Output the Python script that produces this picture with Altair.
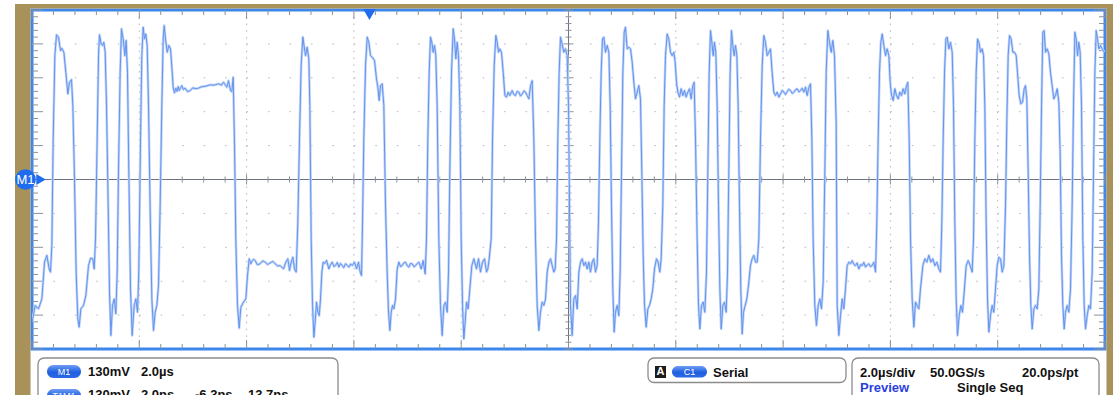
import altair as alt
import numpy as np
import pandas as pd

# Channel M1 acquisition, 2.0 µs/div horizontal, 130 mV/div vertical.
# Each pair is (time in µs from screen centre, level in mV).
trace_a = [
    (-9.997, -547), (-9.941, -483), (-9.879, -496), (-9.816, -458), (-9.767, -317),
    (-9.723, -291), (-9.680, -343), (-9.655, -355), (-9.630, -253), (-9.605, 156),
    (-9.574, 475), (-9.543, 555), (-9.506, 546), (-9.469, 494), (-9.444, 503),
    (-9.406, 488), (-9.369, 411), (-9.332, 328), (-9.301, 373), (-9.264, 383),
    (-9.239, 284), (-9.208, 2), (-9.177, -355), (-9.146, -534), (-9.121, -566),
    (-9.090, -496), (-9.040, -483), (-8.996, -445), (-8.947, -330), (-8.909, -302),
    (-8.866, -304), (-8.841, -343), (-8.816, -228), (-8.785, 156), (-8.760, 475),
    (-8.742, 555), (-8.711, 520), (-8.686, 514), (-8.661, 526), (-8.636, 488),
    (-8.611, 284), (-8.580, -100), (-8.555, -432), (-8.530, -598), (-8.499, -483),
    (-8.468, -458), (-8.437, -515), (-8.412, -355), (-8.388, 28), (-8.357, 411),
    (-8.332, 578), (-8.301, 539), (-8.269, 475), (-8.245, 533), (-8.220, 411),
    (-8.195, 28), (-8.164, -419), (-8.133, -598), (-8.095, -483), (-8.064, -458),
    (-8.033, -509), (-8.009, -355), (-7.977, 156), (-7.953, 475), (-7.928, 584),
    (-7.903, 539), (-7.878, 558), (-7.853, 514), (-7.828, 284), (-7.797, -125),
    (-7.766, -458), (-7.735, -579), (-7.704, -509), (-7.673, -483), (-7.642, -406),
    (-7.611, -100), (-7.580, 284), (-7.555, 539), (-7.536, 590), (-7.511, 539),
    (-7.480, 488), (-7.449, 514), (-7.418, 501), (-7.393, 431), (-7.369, 354),
    (-7.344, 332), (-7.320, 350), (-7.300, 338), (-7.275, 356), (-7.257, 341),
    (-7.230, 352), (-7.207, 360), (-7.180, 345), (-7.145, 350), (-7.100, 337),
    (-7.052, 341), (-7.000, 352), (-6.958, 348), (-6.900, 350), (-6.834, 356),
    (-6.760, 358), (-6.679, 363), (-6.600, 362), (-6.524, 367), (-6.470, 362),
    (-6.430, 373), (-6.368, 354), (-6.337, 379), (-6.300, 341), (-6.275, 337),
    (-6.250, 392), (-6.225, 130), (-6.201, -228), (-6.170, -483), (-6.138, -570),
    (-6.107, -490), (-6.058, -470), (-6.014, -458), (-5.983, -368), (-5.952, -304),
    (-5.920, -323), (-5.902, -314), (-5.870, -306), (-5.840, -311), (-5.800, -327),
    (-5.747, -323), (-5.700, -312), (-5.654, -317), (-5.610, -326), (-5.561, -320),
    (-5.510, -314), (-5.468, -323), (-5.420, -332), (-5.374, -330), (-5.312, -343),
    (-5.269, -317), (-5.231, -304), (-5.200, -349), (-5.169, -317), (-5.138, -298),
    (-5.107, -343), (-5.076, -355), (-5.045, -164), (-5.014, 156), (-4.983, 437),
    (-4.952, 546),
]

trace_b = [
    (-4.902, 475), (-4.871, 507), (-4.840, 463), (-4.821, 284), (-4.796, -228),
    (-4.771, -483), (-4.746, -605), (-4.722, -547), (-4.697, -470), (-4.672, -509),
    (-4.647, -522), (-4.622, -458), (-4.597, -355), (-4.573, -317), (-4.548, -323),
    (-4.510, -310), (-4.467, -343), (-4.435, -326), (-4.405, -317), (-4.370, -334),
    (-4.343, -330), (-4.310, -318), (-4.281, -336), (-4.250, -322), (-4.218, -330),
    (-4.190, -338), (-4.156, -323), (-4.120, -330), (-4.094, -336), (-4.060, -324),
    (-4.032, -330), (-3.989, -317), (-3.951, -343), (-3.914, -317), (-3.883, -355),
    (-3.858, -368), (-3.839, -164), (-3.815, 156), (-3.783, 437), (-3.752, 546),
    (-3.721, 526), (-3.690, 475), (-3.659, 469), (-3.616, 456), (-3.578, 386),
    (-3.554, 354), (-3.529, 303), (-3.504, 360), (-3.473, 367), (-3.442, 284),
    (-3.411, -100), (-3.380, -355), (-3.355, -509), (-3.330, -579), (-3.305, -509),
    (-3.280, -483), (-3.255, -496), (-3.224, -458), (-3.193, -343), (-3.162, -317),
    (-3.130, -334), (-3.100, -330), (-3.070, -320), (-3.038, -317), (-3.005, -331),
    (-2.976, -336), (-2.945, -322), (-2.914, -323), (-2.880, -335), (-2.852, -330),
    (-2.820, -322), (-2.789, -317), (-2.746, -343), (-2.709, -311), (-2.671, -362),
    (-2.647, -228), (-2.622, 156), (-2.597, 411), (-2.572, 546), (-2.547, 526),
    (-2.522, 488), (-2.497, 514), (-2.473, 475), (-2.448, 284), (-2.417, -228),
    (-2.386, -483), (-2.355, -598), (-2.323, -483), (-2.292, -470), (-2.261, -509),
    (-2.236, -355), (-2.212, 28), (-2.181, 411), (-2.149, 578), (-2.125, 539),
    (-2.100, 463), (-2.075, 526), (-2.050, 475), (-2.025, 284), (-2.000, -228),
    (-1.975, -483), (-1.951, -611), (-1.926, -547), (-1.901, -470), (-1.870, -496),
    (-1.839, -419), (-1.802, -330), (-1.764, -304), (-1.715, -343), (-1.677, -304),
    (-1.640, -355), (-1.603, -317), (-1.565, -304), (-1.528, -355), (-1.503, -343),
    (-1.478, -304), (-1.441, -228), (-1.416, 156), (-1.385, 437), (-1.354, 552),
    (-1.329, 526), (-1.304, 488), (-1.280, 501), (-1.249, 488), (-1.217, 411),
    (-1.186, 322), (-1.155, 316), (-1.124, 335), (-1.093, 322), (-1.050, 341),
    (-1.020, 326), (-0.988, 322), (-0.955, 338), (-0.925, 335), (-0.895, 320),
    (-0.863, 328), (-0.830, 340), (-0.801, 335), (-0.770, 322), (-0.739, 309),
    (-0.708, 360), (-0.677, 379), (-0.646, 156), (-0.615, -228), (-0.584, -483),
    (-0.553, -579), (-0.522, -509), (-0.491, -470), (-0.460, -483), (-0.428, -458),
    (-0.397, -355), (-0.366, -317), (-0.335, -304), (-0.304, -330), (-0.273, -355),
    (-0.248, -343), (-0.223, -228), (-0.199, 156), (-0.174, 411), (-0.149, 546),
    (-0.118, 520), (-0.087, 488), (-0.056, 501), (-0.025, 475), (0.000, 284),
]

trace_c = [
    (0.025, -228), (0.037, -483), (0.068, -598), (0.099, -458), (0.131, -445),
    (0.162, -496), (0.193, -355), (0.224, -317), (0.255, -304), (0.286, -330),
    (0.317, -317), (0.348, -343), (0.379, -317), (0.410, -355), (0.441, -317),
    (0.472, -304), (0.503, -355), (0.534, -330), (0.559, -164), (0.584, 156),
    (0.609, 411), (0.634, 539), (0.659, 546), (0.690, 488), (0.721, 514),
    (0.752, 488), (0.777, 284), (0.801, -100), (0.826, -419), (0.851, -585),
    (0.876, -509), (0.907, -483), (0.938, -522), (0.963, -355), (0.988, 28),
    (1.013, 411), (1.038, 565), (1.062, 584), (1.094, 501), (1.125, 507),
    (1.156, 501), (1.187, 450), (1.218, 373), (1.249, 309), (1.280, 335),
    (1.311, 360), (1.342, 309), (1.367, 28), (1.392, -291), (1.417, -483),
    (1.448, -566), (1.479, -496), (1.510, -483), (1.541, -458), (1.572, -419),
    (1.603, -343), (1.640, -304), (1.671, -317), (1.702, -355), (1.727, -304),
    (1.758, -100), (1.783, 284), (1.808, 475), (1.839, 558), (1.870, 539),
    (1.901, 488), (1.932, 475), (1.963, 488), (1.988, 450), (2.013, 373),
    (2.038, 335), (2.069, 316), (2.100, 348), (2.131, 322), (2.162, 341),
    (2.193, 316), (2.224, 335), (2.255, 348), (2.286, 309), (2.317, 360),
    (2.342, 373), (2.367, 156), (2.398, -228), (2.423, -483), (2.448, -573),
    (2.479, -483), (2.510, -470), (2.541, -509), (2.572, -355), (2.597, 28),
    (2.622, 411), (2.647, 571), (2.672, 526), (2.697, 475), (2.721, 526),
    (2.746, 488), (2.771, 284), (2.796, -100), (2.821, -419), (2.846, -573),
    (2.877, -483), (2.908, -470), (2.939, -509), (2.964, -355), (2.988, 28),
    (3.013, 411), (3.038, 571), (3.063, 514), (3.088, 475), (3.113, 514),
    (3.138, 475), (3.162, 284), (3.187, -100), (3.212, -419), (3.237, -592),
    (3.262, -509), (3.293, -483), (3.324, -458), (3.355, -406), (3.392, -330),
    (3.423, -304), (3.454, -291), (3.486, -317), (3.517, -317), (3.548, -228),
    (3.579, 156), (3.610, 437), (3.641, 552), (3.672, 526), (3.703, 475),
    (3.734, 488), (3.765, 501), (3.796, 411), (3.827, 335), (3.858, 322),
    (3.889, 335), (3.921, 316), (3.952, 328), (3.985, 342), (4.014, 335),
    (4.045, 326), (4.076, 337), (4.107, 346), (4.138, 341), (4.170, 330),
    (4.200, 335), (4.230, 344), (4.262, 348), (4.295, 336), (4.324, 341),
    (4.355, 350), (4.387, 335), (4.418, 354), (4.449, 322), (4.480, 354),
    (4.511, 367), (4.536, 156), (4.560, -228), (4.591, -483), (4.622, -560),
    (4.654, -483), (4.685, -458), (4.716, -496), (4.747, -394), (4.778, 28),
    (4.803, 411), (4.834, 571), (4.865, 526), (4.896, 488), (4.927, 533),
    (4.958, 475), (4.989, 220),
]

trace_d = [
    (5.008, -483), (5.039, -598), (5.070, -522), (5.101, -458), (5.132, -496),
    (5.163, -419), (5.194, -330), (5.226, -317), (5.257, -323), (5.288, -311),
    (5.320, -326), (5.350, -330), (5.380, -320), (5.412, -343), (5.445, -326),
    (5.474, -330), (5.505, -318), (5.536, -336), (5.568, -328), (5.598, -323),
    (5.630, -334), (5.660, -330), (5.691, -317), (5.723, -355), (5.747, -164),
    (5.772, 156), (5.797, 411), (5.822, 526), (5.847, 558), (5.878, 514),
    (5.909, 475), (5.940, 501), (5.971, 475), (5.996, 373), (6.021, 322),
    (6.052, 303), (6.083, 348), (6.114, 322), (6.145, 309), (6.176, 335),
    (6.207, 322), (6.238, 348), (6.269, 328), (6.300, 360), (6.325, 373),
    (6.350, 156), (6.375, -228), (6.406, -458), (6.437, -566), (6.468, -470),
    (6.499, -483), (6.530, -496), (6.561, -419), (6.605, -330), (6.642, -304),
    (6.679, -317), (6.717, -291), (6.754, -317), (6.791, -304), (6.829, -330),
    (6.866, -317), (6.903, -343), (6.934, -355), (6.959, -164), (6.984, 156),
    (7.009, 411), (7.034, 539), (7.058, 546), (7.089, 501), (7.120, 526),
    (7.152, 488), (7.176, 284), (7.201, -164), (7.226, -458), (7.251, -598),
    (7.282, -522), (7.313, -483), (7.344, -509), (7.375, -432), (7.413, -330),
    (7.450, -311), (7.487, -330), (7.524, -355), (7.549, -228), (7.574, 156),
    (7.599, 411), (7.624, 539), (7.649, 526), (7.680, 488), (7.711, 501),
    (7.736, 475), (7.760, 284), (7.785, -164), (7.810, -458), (7.835, -585),
    (7.866, -522), (7.897, -483), (7.928, -509), (7.959, -419), (7.990, -330),
    (8.021, -298), (8.053, -304), (8.084, -355), (8.115, -330), (8.146, -100),
    (8.170, 220), (8.195, 475), (8.220, 552), (8.251, 539), (8.282, 488),
    (8.313, 488), (8.345, 475), (8.369, 411), (8.400, 322), (8.431, 290),
    (8.463, 296), (8.494, 348), (8.518, 360), (8.543, 309), (8.568, 28),
    (8.593, -291), (8.618, -483), (8.643, -573), (8.674, -496), (8.705, -483),
    (8.736, -496), (8.767, -419), (8.792, -100), (8.817, 284), (8.841, 565),
    (8.866, 571), (8.891, 488), (8.922, 501), (8.953, 482), (8.984, 411),
    (9.015, 360), (9.046, 309), (9.078, 322), (9.109, 348), (9.140, 296),
    (9.165, 92), (9.189, -291), (9.214, -483), (9.239, -573), (9.264, -509),
    (9.295, -483), (9.326, -509), (9.357, -419), (9.388, -100), (9.413, 284),
    (9.438, 565), (9.463, 539), (9.488, 475), (9.512, 526), (9.537, 488),
    (9.562, 284), (9.587, -228), (9.612, -483), (9.637, -573), (9.668, -522),
    (9.699, -483), (9.730, -496), (9.761, -355), (9.786, 28), (9.811, 411),
    (9.836, 571), (9.861, 539), (9.885, 501), (9.916, 514), (9.947, 501),
    (9.985, 488),
]

# Trigger position (µs) marked along the top edge
trigger_t = [-3.71]

# Readout panel texts
m1_row = ["M1", "130mV", "2.0µs"]
t1m1_row = ["T1M1", "130mV", "2.0ns", "-6.3ns", "13.7ns"]
trig_row = ["A", "C1", "Serial"]
acq_row1 = ["2.0µs/div", "50.0GS/s", "20.0ps/pt"]
acq_row2 = ["Preview", "Single Seq"]

T_DIV = 2.0      # µs per division
MV_DIV = 130     # mV per division
W, H = 1073, 339

FONT = "Liberation Sans"
GOLD = "#a9915a"
BLUE = "#3d86ee"
GRID = "#b2b6bd"
TICK = "#8b9099"
AXIS = "#6d7380"
MARK = "#1f6cf0"

wave = pd.DataFrame(trace_a + trace_b + trace_c + trace_d, columns=["t", "mv"])
wave["n"] = np.arange(len(wave))

xs = alt.Scale(domain=[-5 * T_DIV, 5 * T_DIV], nice=False, zero=False)
ys = alt.Scale(domain=[-5 * MV_DIV, 5 * MV_DIV], nice=False, zero=False)
X = alt.X("t:Q", scale=xs, axis=None)
Y = alt.Y("mv:Q", scale=ys, axis=None)

# graticule positions
k = np.arange(-25, 26)
sub_t = pd.DataFrame({"t": np.round(k * T_DIV / 5, 3), "major": k % 5 == 0})
sub_mv = pd.DataFrame({"mv": np.round(k * MV_DIV / 5, 3), "major": k % 5 == 0})
div_t = pd.DataFrame({"t": [d * T_DIV for d in range(-4, 5) if d != 0]})
div_mv = pd.DataFrame({"mv": [d * MV_DIV for d in range(-4, 5) if d != 0]})
origin = pd.DataFrame({"t": [0.0], "mv": [0.0]})
single = alt.Data(values=[{}])


def rect(x0, x1, y0, y1, **kw):
    return alt.Chart(single).mark_rect(**kw).encode(
        x=alt.value(x0), x2=alt.value(x1), y=alt.value(y0), y2=alt.value(y1))


def label(text, x, y, size=13, color="#111111", weight="bold", align="left", baseline="alphabetic"):
    return alt.Chart(single).mark_text(
        text=text, font=FONT, fontSize=size, fontWeight=weight, color=color,
        align=align, baseline=baseline).encode(x=alt.value(x), y=alt.value(y))


def xticks(df, y0, y1):
    return alt.Chart(df).mark_rule(color=TICK, strokeWidth=1).encode(
        x=X, y=alt.value(y0), y2=alt.value(y1))


def yticks(df, x0, x1):
    return alt.Chart(df).mark_rule(color=TICK, strokeWidth=1).encode(
        y=Y, x=alt.value(x0), x2=alt.value(x1))


minor_t, major_t = sub_t[~sub_t.major], sub_t[sub_t.major]
minor_mv, major_mv = sub_mv[~sub_mv.major], sub_mv[sub_mv.major]

frame = [
    rect(-17, -1.5, -6, 390, color=GOLD),
    rect(-17, 1081, -6, -1.5, color=GOLD),
    rect(1074.5, 1081, -6, 390, color=GOLD),
]

grid = [
    alt.Chart(div_t).mark_rule(color=GRID, strokeWidth=1, strokeDash=[1.5, H / 50 - 1.5]).encode(
        x=X, y=alt.value(0), y2=alt.value(H)),
    alt.Chart(div_mv).mark_rule(color=GRID, strokeWidth=1, strokeDash=[1.5, W / 50 - 1.5]).encode(
        y=Y, x=alt.value(0), x2=alt.value(W)),
    alt.Chart(origin).mark_rule(color=AXIS, strokeWidth=1).encode(x=X, y=alt.value(0), y2=alt.value(H)),
    alt.Chart(origin).mark_rule(color=AXIS, strokeWidth=1).encode(y=Y, x=alt.value(0), x2=alt.value(W)),
    # edge ticks
    xticks(minor_t, 0, 5), xticks(major_t, 0, 9),
    xticks(minor_t, H, H - 5), xticks(major_t, H, H - 9),
    yticks(minor_mv, 0, 6), yticks(major_mv, 0, 11),
    yticks(minor_mv, W, W - 6), yticks(major_mv, W, W - 11),
    # centre crosshair ticks
    xticks(minor_t, H / 2 - 3, H / 2 + 3), xticks(major_t, H / 2 - 5, H / 2 + 5),
    yticks(minor_mv, W / 2 - 3, W / 2 + 3), yticks(major_mv, W / 2 - 5, W / 2 + 5),
]

trace = [
    alt.Chart(wave).mark_line(color="#c2d5f8", strokeWidth=2.6, clip=True, strokeJoin="round").encode(
        x=X, y=Y, order="n:Q"),
    alt.Chart(wave).mark_line(color="#6394ef", strokeWidth=1.0, clip=True, strokeJoin="round").encode(
        x=X, y=Y, order="n:Q"),
]

markers = [
    alt.Chart(origin).mark_point(shape="circle", filled=True, size=430, color=MARK, opacity=1).encode(
        x=alt.value(-6.5), y=Y),
    alt.Chart(origin).mark_point(shape="triangle-right", filled=True, size=120, color=MARK, opacity=1).encode(
        x=alt.value(9), y=Y),
    alt.Chart(origin).mark_text(text="M1", font=FONT, fontSize=13, color="white", align="center",
                                baseline="middle").encode(x=alt.value(-6.5), y=Y),
    alt.Chart(pd.DataFrame({"t": trigger_t})).mark_point(
        shape="triangle-down", filled=True, size=160, color=MARK, opacity=1).encode(x=X, y=alt.value(4.5)),
]

pill_fill = alt.LinearGradient(
    gradient="linear", x1=0, x2=0, y1=0, y2=1,
    stops=[alt.GradientStop(color="#6f9ff5", offset=0),
           alt.GradientStop(color="#1f5fe0", offset=0.55),
           alt.GradientStop(color="#2a6ae6", offset=1)])

panel = [
    rect(6, 306, 348, 400, fill="white", stroke="#8c8c8c", strokeWidth=1.3, cornerRadius=6),
    rect(616, 814, 348, 372.5, fill="white", stroke="#8c8c8c", strokeWidth=1.3, cornerRadius=6),
    rect(820, 1067, 348, 400, fill="white", stroke="#8c8c8c", strokeWidth=1.3, cornerRadius=6),
    # M1 readout
    rect(15, 49, 355, 368, color=pill_fill, cornerRadius=6.5),
    label(m1_row[0], 32, 361.5, size=9, color="white", weight="normal", align="center", baseline="middle"),
    label(m1_row[1], 56, 366), label(m1_row[2], 109, 366),
    # T1M1 readout (runs off the bottom edge)
    rect(15, 49, 379, 392, color=pill_fill, cornerRadius=6.5),
    label(t1m1_row[0], 32, 385.5, size=9, color="white", weight="normal", align="center", baseline="middle"),
    label(t1m1_row[1], 56, 389), label(t1m1_row[2], 109, 389),
    label(t1m1_row[3], 163, 389), label(t1m1_row[4], 216, 389),
    # trigger readout
    rect(623, 634, 356, 368, color="#1b1b1b"),
    label(trig_row[0], 628.5, 362, size=11, color="white", align="center", baseline="middle"),
    rect(640, 675, 356, 367.5, color=pill_fill, cornerRadius=6),
    label(trig_row[1], 657.5, 362, size=9, color="white", weight="normal", align="center", baseline="middle"),
    label(trig_row[2], 681, 366.5),
    # acquisition readout
    label(acq_row1[0], 828, 366.5), label(acq_row1[1], 898, 366.5), label(acq_row1[2], 990, 366.5),
    label(acq_row2[0], 828, 381.5, color="#2b3fe0"), label(acq_row2[1], 925, 381.5),
]

chart = alt.layer(*frame, *grid, *trace, *markers, *panel).properties(
    width=W, height=H, autosize="none",
    padding={"left": 32, "top": 10, "right": 10, "bottom": 46},
    background="white",
).configure_view(stroke=BLUE, strokeWidth=3)

chart.save("out.html", embed_options={"renderer": "svg", "actions": False})
